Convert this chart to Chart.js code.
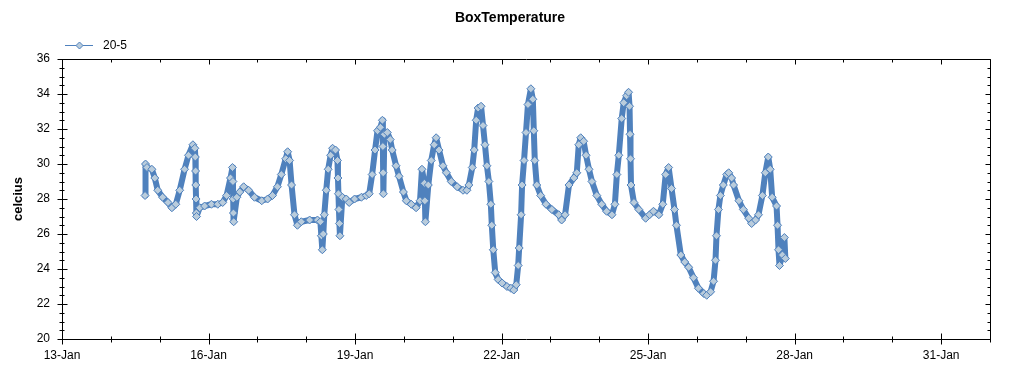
<!DOCTYPE html>
<html>
<head>
<meta charset="utf-8">
<script src="https://cdn.jsdelivr.net/npm/chart.js@4.4.1/dist/chart.umd.min.js"></script>
<style>
  html, body { margin: 0; padding: 0; background: #fff; }
  #wrap { width: 1024px; height: 375px; }
</style>
</head>
<body>
<div id="wrap"><canvas id="boxChart" width="1024" height="375"></canvas></div>
<script>
// ======================================
// DATA (day of January, fractional)
// ======================================
const seriesName = '20-5';
const chartTitle = 'BoxTemperature';
const yTitle = 'celcius';

const days = [
  14.70, 14.71, 14.74, 14.84, 14.90, 14.96, 15.06, 15.17, 15.25, 15.33, 15.41, 15.51, 15.59, 15.68, 15.72,
  15.73, 15.735, 15.74, 15.745, 15.75, 15.755, 15.82, 15.92, 16.06, 16.19, 16.29, 16.37, 16.45, 16.49,
  16.50, 16.505, 16.51, 16.515, 16.58, 16.64, 16.72, 16.82, 16.94, 17.09, 17.21, 17.31, 17.41, 17.49,
  17.58, 17.62, 17.66, 17.70, 17.76, 17.82, 17.90, 18.07, 18.23, 18.29, 18.31, 18.33, 18.35, 18.37,
  18.41, 18.45, 18.50, 18.54, 18.60, 18.64, 18.65, 18.66, 18.67, 18.68, 18.69, 18.74, 18.82, 18.88,
  18.99, 19.13, 19.23, 19.29, 19.35, 19.41, 19.46, 19.52, 19.56, 19.57, 19.575, 19.58, 19.60, 19.66,
  19.72, 19.76, 19.84, 19.90, 19.99, 20.05, 20.15, 20.25, 20.33, 20.37, 20.42, 20.43, 20.44, 20.50,
  20.56, 20.62, 20.66, 20.72, 20.80, 20.87, 20.97, 21.09, 21.21, 21.29, 21.33, 21.40, 21.44, 21.48,
  21.52, 21.58, 21.62, 21.66, 21.70, 21.74, 21.78, 21.80, 21.83, 21.87, 21.93, 22.01, 22.11, 22.19,
  22.25, 22.30, 22.34, 22.36, 22.40, 22.42, 22.46, 22.50, 22.54, 22.60, 22.64, 22.66, 22.68, 22.72,
  22.80, 22.91, 23.03, 23.17, 23.23, 23.30, 23.38, 23.48, 23.54, 23.58, 23.62, 23.68, 23.73, 23.79,
  23.85, 23.95, 24.05, 24.15, 24.26, 24.32, 24.36, 24.40, 24.46, 24.50, 24.56, 24.60, 24.62, 24.63,
  24.64, 24.65, 24.71, 24.81, 24.95, 25.03, 25.11, 25.22, 25.30, 25.36, 25.42, 25.48, 25.54, 25.58,
  25.67, 25.75, 25.83, 25.93, 26.03, 26.14, 26.20, 26.28, 26.34, 26.38, 26.40, 26.44, 26.48, 26.54,
  26.61, 26.65, 26.71, 26.75, 26.86, 26.95, 27.06, 27.12, 27.20, 27.26, 27.34, 27.40, 27.46, 27.50,
  27.54, 27.63, 27.65, 27.67, 27.69, 27.75, 27.79, 27.81
];
const temps = [
  28.2, 30.0, 29.8, 29.7, 29.2, 28.5, 28.1, 27.8, 27.5, 27.7, 28.5, 29.7, 30.5, 31.1, 30.9,
  30.4, 29.6, 28.8, 28.0, 27.2, 27.0, 27.5, 27.6, 27.7, 27.7, 27.8, 28.2, 29.2, 29.8,
  29.0, 28.0, 27.2, 26.7, 28.1, 28.4, 28.7, 28.5, 28.1, 27.9, 28.0, 28.2, 28.7, 29.4,
  30.3, 30.7, 30.2, 28.8, 27.1, 26.5, 26.7, 26.8, 26.8, 26.7, 25.9, 25.1, 26.0, 27.1,
  28.5, 29.7, 30.5, 30.9, 30.8, 30.2, 29.2, 28.3, 27.4, 26.6, 25.9, 28.1, 28.0, 27.8,
  28.0, 28.1, 28.2, 28.3, 29.4, 30.8, 31.9, 32.1, 32.5, 31.0, 29.5, 28.3, 31.7, 31.8,
  31.4, 30.8, 29.9, 29.3, 28.4, 27.9, 27.7, 27.5, 27.9, 29.7, 28.9, 27.9, 26.7, 28.8,
  30.2, 31.1, 31.5, 30.8, 29.9, 29.5, 29.0, 28.7, 28.5, 28.5, 28.8, 29.8, 30.8, 32.5,
  33.2, 33.3, 32.2, 31.1, 29.9, 29.0, 27.7, 26.5, 25.1, 23.8, 23.4, 23.2, 23.0, 22.9,
  22.8, 23.1, 24.2, 25.2, 27.1, 28.8, 30.2, 31.8, 33.4, 34.3, 33.7, 31.9, 30.2, 28.8,
  28.2, 27.7, 27.4, 27.1, 26.8, 27.1, 28.8, 29.2, 29.5, 31.1, 31.5, 31.3, 30.5, 29.7,
  29.0, 28.2, 27.7, 27.3, 27.1, 27.7, 29.4, 30.5, 32.6, 33.5, 33.9, 34.1, 33.3, 31.7,
  30.3, 28.8, 27.8, 27.4, 26.9, 27.1, 27.3, 27.1, 27.7, 29.4, 29.8, 28.6, 27.4, 26.5,
  24.8, 24.4, 24.1, 23.5, 22.9, 22.6, 22.5, 22.7, 23.3, 24.5, 25.9, 27.4, 28.2, 28.8,
  29.4, 29.5, 29.2, 28.8, 27.9, 27.4, 26.9, 26.6, 26.8, 27.1, 28.2, 29.5, 30.4, 29.7,
  28.1, 27.6, 26.5, 25.1, 24.2, 24.8, 25.8, 24.6
];

// axis ranges and labels
const xMin = 13, xMax = 32;
const xLabelDays = [13, 16, 19, 22, 25, 28, 31];
const xLabelText = ['13-Jan', '16-Jan', '19-Jan', '22-Jan', '25-Jan', '28-Jan', '31-Jan'];
const yMin = 20, yMax = 36;
const yLabels = [20, 22, 24, 26, 28, 30, 32, 34, 36];

// ======================================
// STYLE
// ======================================
const lineBlue = '#4f81bd';
const markFill = 'rgb(185,204,220)';
const fontFam = '"Liberation Sans", Arial, sans-serif';

function drawDiamond(ctx, x, y, r) {
    ctx.beginPath();
    ctx.moveTo(x, y - r); ctx.lineTo(x + r, y); ctx.lineTo(x, y + r); ctx.lineTo(x - r, y); ctx.closePath();
    ctx.fillStyle = markFill; ctx.fill();
    ctx.strokeStyle = lineBlue; ctx.lineWidth = 1; ctx.stroke();
}

// frame, inner/outer ticks, title and legend
const framePlugin = {
    id: 'frame',
    afterDraw(chart) {
        const ctx = chart.ctx, a = chart.chartArea;
        const xs = chart.scales.x, ys = chart.scales.y;
        const L = Math.round(a.left) + 0.5, R = Math.round(a.right) + 0.5;
        const T = Math.round(a.top) + 0.5, B = Math.round(a.bottom) + 0.5;
        ctx.save();
        ctx.strokeStyle = '#000'; ctx.lineWidth = 1;
        ctx.beginPath();
        ctx.rect(L, T, R - L, B - T);
        // x ticks, one per day
        for (let d = xMin; d <= xMax; d++) {
            const px = Math.round(xs.getPixelForValue(d)) + 0.5;
            const major = xLabelDays.includes(d);
            ctx.moveTo(px, B - (major ? 6 : 3)); ctx.lineTo(px, B + (major ? 5 : 3));
            ctx.moveTo(px, T); ctx.lineTo(px, T + (major ? 5 : 3));
        }
        // y ticks, every half degree
        for (let v = yMin; v <= yMax; v += 0.5) {
            const py = Math.round(ys.getPixelForValue(v)) + 0.5;
            const major = yLabels.includes(v);
            ctx.moveTo(L - (major ? 5 : 3), py); ctx.lineTo(L + (major ? 5 : 2), py);
            ctx.moveTo(R, py); ctx.lineTo(R - (major ? 5 : 3), py);
        }
        ctx.stroke();

        // title
        ctx.fillStyle = '#000';
        ctx.font = 'bold 14px ' + fontFam;
        ctx.textAlign = 'center'; ctx.textBaseline = 'middle';
        ctx.fillText(chartTitle, 510, 18);

        // legend
        ctx.beginPath();
        ctx.strokeStyle = lineBlue; ctx.lineWidth = 1;
        ctx.moveTo(65, 45.5); ctx.lineTo(93, 45.5); ctx.stroke();
        drawDiamond(ctx, 79.5, 45.5, 3.5);
        ctx.fillStyle = '#000';
        ctx.font = '12px ' + fontFam;
        ctx.textAlign = 'left';
        ctx.fillText(seriesName, 103, 46);
        ctx.restore();
    }
};

const points = days.map((d, i) => ({ x: d, y: temps[i] }));

document.addEventListener('DOMContentLoaded', function() {
    const ctx = document.getElementById('boxChart').getContext('2d');
    new Chart(ctx, {
        type: 'line',
        data: {
            datasets: [{
                label: seriesName,
                data: points,
                borderColor: lineBlue,
                borderWidth: 6,
                borderJoinStyle: 'round',
                borderCapStyle: 'round',
                backgroundColor: markFill,
                pointStyle: 'rectRot',
                pointRadius: 4,
                pointBorderWidth: 1,
                pointBorderColor: lineBlue,
                pointBackgroundColor: markFill,
                tension: 0
            }]
        },
        options: {
            responsive: false,
            animation: false,
            layout: { padding: { top: 59, right: 34, left: 0, bottom: 0 } },
            plugins: { legend: { display: false }, title: { display: false }, tooltip: { enabled: false } },
            scales: {
                x: {
                    type: 'linear', min: xMin, max: xMax,
                    grid: { display: false, drawTicks: false },
                    border: { display: false },
                    ticks: {
                        stepSize: 1, autoSkip: false, maxRotation: 0, padding: 9,
                        color: '#000', font: { family: fontFam, size: 12 },
                        callback: function(v) {
                            const i = xLabelDays.indexOf(v);
                            return i >= 0 ? xLabelText[i] : '';
                        }
                    },
                    afterFit: function(s) { s.height = 36; }
                },
                y: {
                    min: yMin, max: yMax,
                    grid: { display: false, drawTicks: false },
                    border: { display: false },
                    ticks: {
                        stepSize: 2, padding: 12,
                        color: '#000', font: { family: fontFam, size: 12 },
                        callback: function(v) { return yLabels.includes(v) ? String(v) : ''; }
                    },
                    title: {
                        display: true, text: yTitle, color: '#000',
                        font: { family: fontFam, size: 13, weight: 'bold' },
                        padding: { top: 11, bottom: 0 }
                    },
                    afterFit: function(s) { s.width = 62; }
                }
            }
        },
        plugins: [framePlugin]
    });
});
</script>
</body>
</html>
